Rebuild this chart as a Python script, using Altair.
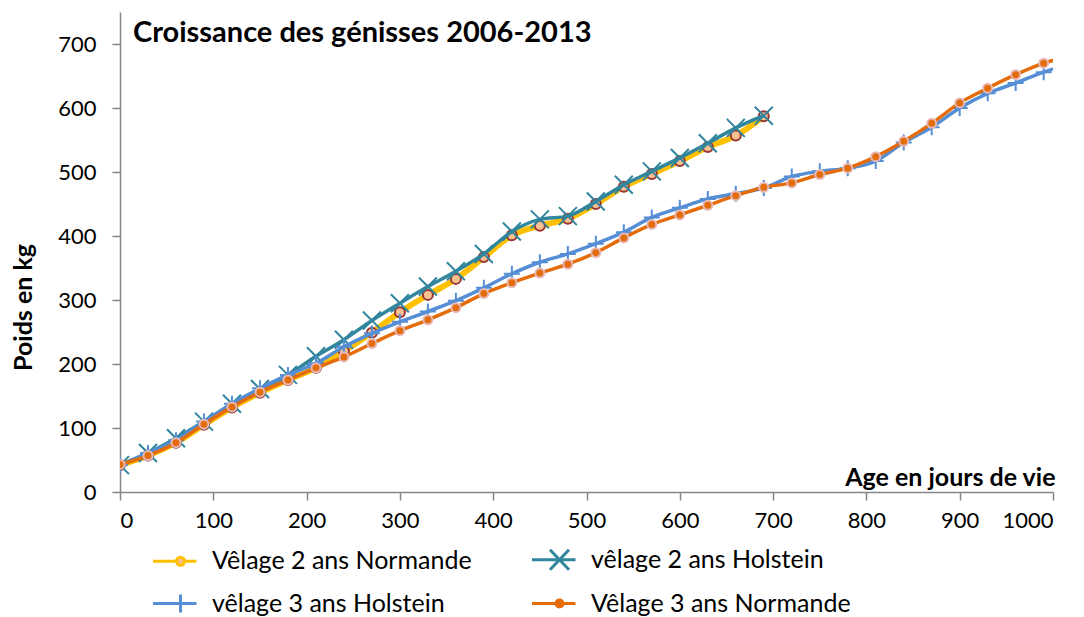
import altair as alt
import pandas as pd

# ---- data ----
ages_2ans = [0, 30, 60, 90, 120, 150, 180, 210, 240, 270, 300, 330, 360, 390,
             420, 450, 480, 510, 540, 570, 600, 630, 660, 690]
normande_2ans = [42, 57, 77, 105, 132, 155, 175, 194, 220, 249, 281, 308, 333, 367,
                 401, 416, 427, 450, 477, 497, 517, 539, 557, 587]
holstein_2ans = [42, 61, 84, 110, 138, 161, 183, 212, 238, 268, 295, 321, 345, 372,
                 407, 426, 431, 454, 480, 501, 522, 545, 569, 588]

ages_3ans = [0, 30, 60, 90, 120, 150, 180, 210, 240, 270, 300, 330, 360, 390,
             420, 450, 480, 510, 540, 570, 600, 630, 660, 690, 720, 750, 780, 810,
             840, 870, 900, 930, 960, 990, 1020]
holstein_3ans = [42, 61, 81, 110, 138, 162, 183, 201, 227, 248, 266, 282, 299, 319,
                 341, 359, 372, 388, 406, 429, 444, 458, 466, 475, 493, 501, 506, 517,
                 546, 570, 600, 623, 639, 656, 670]
normande_3ans = [43, 57, 77, 106, 133, 156, 175, 194, 211, 232, 252, 269, 288, 310,
                 327, 342, 356, 374, 397, 418, 433, 448, 463, 476, 483, 496, 506, 524,
                 548, 576, 608, 631, 652, 670, 682]

series_names = ["Vêlage 2 ans Normande", "vêlage 2 ans Holstein",
                "vêlage 3 ans Holstein", "Vêlage 3 ans Normande"]
line_colors = ["#FFC000", "#31859C", "#558ED5", "#E46C0A"]
legend_fills = ["#FAC090", "#31859C", "#558ED5", "#E46C0A"]

x_ticks = [0, 100, 200, 300, 400, 500, 600, 700, 800, 900, 1000]
y_ticks = [0, 100, 200, 300, 400, 500, 600, 700]

title_text = "Croissance des génisses 2006-2013"
x_title = "Age en jours de vie"
y_title = "Poids en kg"

FONT = "Lato"
AXIS_GREY = "#868686"

# legend symbols: line segment + marker (unit = 10 px with symbolSize 400)
legend_shapes = [
    "M-1.15,0H1.2M2,0H3.2M2,0A0.4,0.4,0,1,1,1.2,0A0.4,0.4,0,1,1,2,0Z",
    "M-1.15,0H3.2M0.65,-1L2.55,1M0.65,1L2.55,-1",
    "M-1.15,0H3.2M1.6,-0.9V0.9",
    "M-1.15,0H1.25M1.95,0H3.2M1.95,0A0.35,0.35,0,1,1,1.25,0A0.35,0.35,0,1,1,1.95,0Z",
]

x_scale = alt.Scale(domain=[0, 1000], nice=False, zero=False)
y_scale = alt.Scale(domain=[0, 750], nice=False)

x_axis = alt.Axis(values=x_ticks, format="d", grid=False, domainColor=AXIS_GREY,
                  domainWidth=1.5, tickColor=AXIS_GREY, tickWidth=1.5, tickSize=8,
                  labelFont=FONT, labelFontSize=22, labelColor="black", labelPadding=10,
                  title=x_title, titleFont=FONT, titleFontSize=25, titleFontWeight="bold",
                  titleColor="black", titleAnchor="end", titleAlign="right",
                  titleX=935, titleY=-15, titleBaseline="middle")
y_axis = alt.Axis(values=y_ticks, format="d", grid=False, domainColor=AXIS_GREY,
                  domainWidth=1.5, tickColor=AXIS_GREY, tickWidth=1.5, tickSize=8,
                  labelFont=FONT, labelFontSize=22, labelColor="black", labelPadding=16,
                  title=y_title, titleFont=FONT, titleFontSize=25, titleFontWeight="bold",
                  titleColor="black", titleAngle=-90, titleAlign="center",
                  titleBaseline="middle", titleX=-97, titleY=295)


def series_layers(name, ages, values, color, width, shape, size, fill, stroke, sw, filled):
    df = pd.DataFrame({"age": ages, "poids": values, "serie": name})
    base = alt.Chart(df).encode(
        x=alt.X("age:Q", scale=x_scale, axis=x_axis),
        y=alt.Y("poids:Q", scale=y_scale, axis=y_axis),
    )
    line = base.mark_line(color=color, strokeWidth=width, interpolate="monotone", clip=True)
    if filled:
        pts = base.mark_point(shape=shape, size=size, filled=True, fill=fill, stroke=stroke,
                              strokeWidth=sw, opacity=1, clip=True)
    else:
        pts = base.mark_point(shape=shape, size=size, filled=False, stroke=stroke,
                              strokeWidth=sw, opacity=1, clip=True)
    return [line, pts]


layers = []
layers += series_layers(series_names[0], ages_2ans, normande_2ans, line_colors[0], 6,
                        "circle", 100, "#FAC090", "#953735", 2, True)
layers += series_layers(series_names[1], ages_2ans, holstein_2ans, line_colors[1], 3.5,
                        "M-1,-1L1,1M-1,1L1,-1", 324, None, line_colors[1], 2, False)
layers += series_layers(series_names[2], ages_3ans, holstein_3ans, line_colors[2], 3.5,
                        "M0,-1V1M-1,0H1", 256, None, line_colors[2], 2, False)
layers += series_layers(series_names[3], ages_3ans, normande_3ans, line_colors[3], 3.5,
                        "circle", 81, "#E46C0A", "#E6B9B8", 2, True)

legend_opts = dict(orient="none", legendX=32, legendY=535, columns=2, direction="horizontal",
                   title=None)
legend_df = pd.DataFrame({"serie": series_names})
legend_layer = alt.Chart(legend_df).transform_filter("false").mark_point(
    filled=True, opacity=1
).encode(
    fill=alt.Fill("serie:N", scale=alt.Scale(domain=series_names, range=legend_fills),
                  legend=alt.Legend(**legend_opts, symbolSize=400, symbolStrokeWidth=3,
                                    symbolOpacity=1, labelFont=FONT, labelFontSize=25,
                                    labelColor="black", labelOffset=35,
                                    columnPadding=54, rowPadding=12, labelLimit=400)),
    stroke=alt.Stroke("serie:N", scale=alt.Scale(domain=series_names, range=line_colors),
                      legend=alt.Legend(**legend_opts)),
    shape=alt.Shape("serie:N", scale=alt.Scale(domain=series_names, range=legend_shapes),
                    legend=alt.Legend(**legend_opts)),
)

chart = alt.layer(*layers, legend_layer).properties(
    width=933,
    height=480,
    autosize="none",
    padding={"left": 112, "top": 4, "right": 20, "bottom": 125},
    title=alt.Title(title_text, anchor="start", frame="group", dx=13, dy=59, offset=0,
                    font=FONT, fontSize=29, fontWeight="bold", color="black",
                    baseline="alphabetic"),
    background="white",
).configure_view(stroke=None)

chart.save("out.html", embed_options={"renderer": "svg", "actions": False})
